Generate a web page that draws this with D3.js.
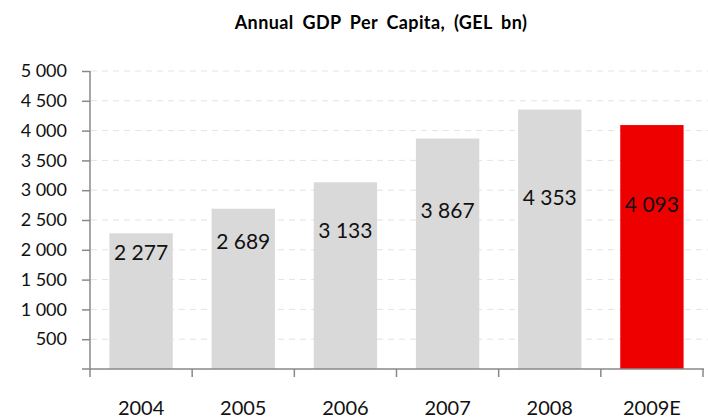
<!DOCTYPE html>
<html>
<head>
<meta charset="utf-8">
<script src="https://cdn.jsdelivr.net/npm/d3@7"></script>
<style>
  body { margin: 0; background: #fff; }
  text { font-family: Lato, "Open Sans", sans-serif; }
</style>
</head>
<body>
<svg id="chart" width="708" height="420"></svg>
<script>
// data
var years = ["2004", "2005", "2006", "2007", "2008", "2009E"];
var gdp = [2277, 2689, 3133, 3867, 4353, 4093];
var yTicks = [500, 1000, 1500, 2000, 2500, 3000, 3500, 4000, 4500, 5000];

var svg = d3.select("#chart");
var fmt = function(v) { return d3.format(",")(v).replace(/,/g, " "); };

var x = d3.scaleBand().domain(years).range([90, 703]).paddingInner(0.38).paddingOuter(0.19);
var y = d3.scaleLinear().domain([0, 5000]).range([369, 71]);
// value labels sit lower in the taller bars, as in the original
var labelY = d3.scaleLinear().domain([2277, 4353]).range([253, 198]);

svg.append("text")
    .attr("x", 381).attr("y", 29)
    .attr("text-anchor", "middle")
    .attr("font-size", 18).attr("font-weight", "bold")
    .attr("letter-spacing", 0.4).attr("word-spacing", 4)
    .text("Annual GDP Per Capita, (GEL bn)");

// dashed grid lines
svg.append("g").selectAll("line").data(yTicks).join("line")
    .attr("x1", 91).attr("x2", 708)
    .attr("y1", function(d) { return y(d); })
    .attr("y2", function(d) { return y(d); })
    .attr("stroke", "#e3e3e3").attr("stroke-dasharray", "6,5");

// bars
svg.append("g").selectAll("rect").data(gdp).join("rect")
    .attr("x", function(d, i) { return x(years[i]); })
    .attr("width", x.bandwidth())
    .attr("y", function(d) { return y(d); })
    .attr("height", function(d) { return y(0) - y(d); })
    .attr("fill", function(d, i) { return i == years.length - 1 ? "#ee0000" : "#d9d9d9"; });

// value labels
svg.append("g").selectAll("text").data(gdp).join("text")
    .attr("x", function(d, i) { return x(years[i]) + x.bandwidth() / 2; })
    .attr("y", function(d) { return labelY(d); })
    .attr("dy", "0.35em")
    .attr("text-anchor", "middle")
    .attr("font-size", 21).attr("fill", "#111")
    .text(fmt);

// y axis
var yAxis = svg.append("g")
    .attr("transform", "translate(90,0)")
    .call(d3.axisLeft(y).tickValues(yTicks).tickSize(8).tickPadding(15).tickFormat(fmt));
yAxis.select(".domain").attr("d", "M0," + y(5000) + "V" + (y(0) + 8));
yAxis.selectAll("line, .domain").attr("stroke", "#888").attr("stroke-width", 1.5);
yAxis.selectAll("text").attr("font-size", 18).attr("fill", "#111")
    .style("font-family", "Lato, 'Open Sans', sans-serif");

// x axis: ticks at category boundaries
var bounds = d3.range(years.length + 1).map(function(i) { return 90 + i * x.step(); });
var xAxis = svg.append("g");
xAxis.append("line")
    .attr("x1", 82).attr("x2", 704)
    .attr("y1", y(0)).attr("y2", y(0))
    .attr("stroke", "#888").attr("stroke-width", 1.5);
xAxis.selectAll(".tk").data(bounds.slice(1)).join("line")
    .attr("class", "tk")
    .attr("x1", function(d) { return d; }).attr("x2", function(d) { return d; })
    .attr("y1", y(0)).attr("y2", y(0) + 8)
    .attr("stroke", "#888").attr("stroke-width", 1.5);
xAxis.selectAll("text").data(years).join("text")
    .attr("x", function(d) { return x(d) + x.bandwidth() / 2; })
    .attr("y", 415)
    .attr("text-anchor", "middle")
    .attr("font-size", 20).attr("fill", "#111")
    .text(function(d) { return d; });
</script>
</body>
</html>
